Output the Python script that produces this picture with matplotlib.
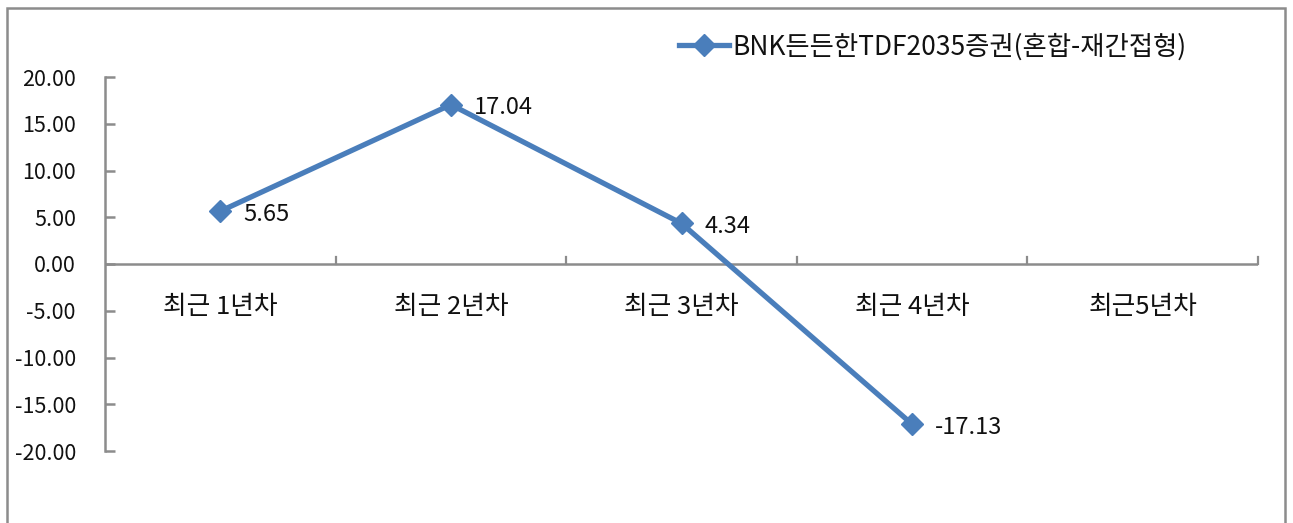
import matplotlib
matplotlib.use("Agg")
import matplotlib.pyplot as plt
from matplotlib.patches import Rectangle

plt.rcParams['font.family'] = ['Noto Sans CJK KR', 'DejaVu Sans']

categories = ['최근 1년차', '최근 2년차', '최근 3년차', '최근 4년차', '최근5년차']
values = [5.65, 17.04, 4.34, -17.13]
series_name = 'BNK든든한TDF2035증권(혼합-재간접형)'
yticks = [20, 15, 10, 5, 0, -5, -10, -15, -20]

W, H = 1293, 523
fig = plt.figure(figsize=(W/100, H/100), dpi=100)
fig.patch.set_facecolor('white')

# outer chart border
fig.patches.append(Rectangle((7/W, -0.05), (1285-7)/W, (H-8)/H + 0.05,
                             transform=fig.transFigure, fill=False,
                             edgecolor='#8c8c8c', linewidth=1.8))

left, right = 105/W, 1258/W
bottom, top = (H-451)/H, (H-77)/H
ax = fig.add_axes([left, bottom, right-left, top-bottom])

axis_color = '#8c8c8c'
blue = '#4a7ebb'
text_color = '#111111'
x = list(range(len(values)))
ax.plot(x, values, color=blue, linewidth=3.8, marker='D', markersize=11,
        markerfacecolor=blue, markeredgecolor=blue, label=series_name,
        solid_joinstyle='round', zorder=3)
for xi, v in zip(x, values):
    ax.annotate(f'{v:.2f}', (xi, v), xytext=(23, -3), textcoords='offset pixels',
                ha='left', va='center', fontsize=17, color=text_color)

ax.set_xlim(-0.5, len(categories)-0.5)
ax.set_ylim(-20, 20)
ax.set_yticks(yticks)
ax.set_yticklabels([f'{t:.2f}' for t in yticks], fontsize=15.5, color=text_color)

for s in ['top', 'right', 'bottom']:
    ax.spines[s].set_visible(False)
ax.spines['left'].set_color(axis_color)
ax.spines['left'].set_linewidth(1.8)
ax.tick_params(axis='y', direction='in', length=7, width=1.8, color=axis_color, pad=21)

# x axis at zero with category boundary ticks
ax.axhline(0, color=axis_color, linewidth=1.8, zorder=2)
ax.set_xticks([])
for b in [i + 0.5 for i in range(len(categories))]:
    ax.plot([b, b], [0, 0.8], color=axis_color, linewidth=1.6, clip_on=False, zorder=2)
for i, c in enumerate(categories):
    ax.text(i, -4.6, c, ha='center', va='center', fontsize=18.5, color=text_color)

leg = ax.legend(loc='center left', bbox_to_anchor=(668/W, (H-47)/H),
                bbox_transform=fig.transFigure, frameon=False, fontsize=19,
                handlelength=1.9, handletextpad=0.15, borderaxespad=0)
for t in leg.get_texts():
    t.set_color(text_color)

fig.savefig('out.png', dpi=100, facecolor='white')
